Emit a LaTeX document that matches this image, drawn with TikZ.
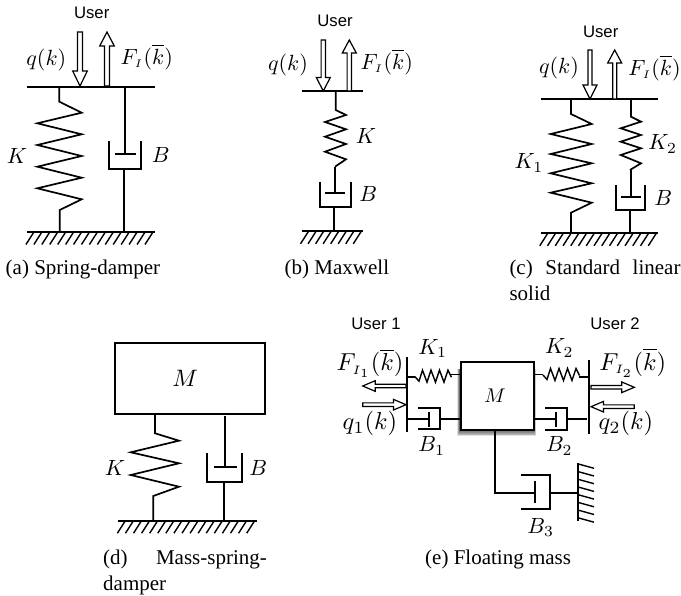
\documentclass[tikz,border=0pt]{standalone}
\usepackage[no-math]{fontspec}
\setmainfont{Liberation Serif}
\setsansfont{Liberation Sans}
\tikzset{
  x=1pt,y=-1pt,
  mech/.style={line width=1.7pt,line join=miter,line cap=butt,draw=black},
  hatch/.style={line width=1.4pt,draw=black},
  mathlabel/.style={inner sep=0pt,scale=2.2,text=black},
  bigmath/.style={inner sep=0pt,scale=2.45,text=black},
  userlabel/.style={inner sep=0pt,font=\fontsize{16.7}{20}\selectfont\sffamily},
  caplabel/.style={inner sep=0pt,font=\fontsize{21}{26.5}\selectfont,anchor=base west,align=left},
  massbox/.style={draw=black,fill=white,inner sep=0pt,anchor=north west},
}
% hollow arrow: tail at (x,y), angle, length, head length, half width of head, half width of shaft
\newcommand{\hollowarrow}[7]{%
  \begin{scope}[shift={(#1,#2)},rotate=#3]
    \draw[line width=1.2pt,fill=white,line join=miter]
      (0,#7) -- (#4-#5,#7) -- (#4-#5,#6) -- (#4,0) -- (#4-#5,-#6) -- (#4-#5,-#7) -- (0,-#7) -- cycle;
  \end{scope}}
% ground: x1 x2 y, hatches below
\newcommand{\groundline}[4]{%
  \draw[mech] (#1,#3) -- (#2,#3);
  \foreach \i in {1,...,#4}{
    \pgfmathsetmacro{\hx}{#1+\i*(#2-#1-1)/#4-1}
    \draw[hatch] (\hx,#3) -- (\hx-8,#3+12.5);
  }}
% vertical damper: rod x, top y, cup left, cup right, cup top, cup bottom, piston y, piston half-width
\newcommand{\vdamper}[9]{%
  \draw[mech] (#1,#2) -- (#1,#7);
  \draw[mech] (#1-#8,#7) -- (#1+#8,#7);
  \draw[mech] (#3,#5) -- (#3,#6) -- (#4,#6) -- (#4,#5);
  \draw[mech] (#1-1,#6) -- (#1-1,#9);
}
% horizontal small spring
\newcommand{\hspring}[2]{%
  \draw[mech,line width=1.4pt] (#1,#2) -- ++(4,4.5) -- ++(3.5,-11) -- ++(4.5,12)-- ++(4,-12) -- ++(4.5,12) -- ++(4,-12) -- ++(4.5,12) -- ++(4,-12) -- ++(3.5,7);
}
\begin{document}
\begin{tikzpicture}
\useasboundingbox (0,0) rectangle (681,596);
%%% (a)
\draw[mech] (27,87) -- (155,87);
\node[userlabel] (ua) at (91.7,13) {User};
\hollowarrow{80}{32}{-90}{54}{15}{7.3}{2.5}
\hollowarrow{107}{86}{90}{54}{14}{7.3}{2.5}
\node[mathlabel] (qa) at (46.3,60) {\(q(k)\)};
\node[mathlabel] (fa) at (146.7,57) {\(F_{\scriptscriptstyle I}(\overline{k})\)};
\draw[mech] (59.3,87) -- (59.3,101.7) -- (81.7,112.7) -- (37.3,123.3) -- (81.7,134.3) -- (37.3,145) -- (81.7,156)
  -- (37.3,166.7) -- (81.7,177.7) -- (37.3,188.3) -- (81.7,199.3) -- (59.7,210) -- (59.7,232);
\vdamper{125.3}{87}{109.3}{141.3}{141}{168.7}{154}{10.5}{232}
\groundline{27}{155}{232}{16}
\node[mathlabel] (ka) at (17,156) {\(K\)};
\node[mathlabel] (ba) at (160.7,155) {\(B\)};
\node[caplabel] (ca) at (5.5,274.5) {(a) Spring-damper};
%%% (b)
\draw[mech] (301.7,91.3) -- (363.3,91.3);
\node[userlabel] (ub) at (335,21) {User};
\hollowarrow{323.3}{40}{-90}{51}{13.5}{7}{2.2}
\hollowarrow{349.3}{91}{90}{51}{13}{7}{2.2}
\node[mathlabel] (qb) at (288,65) {\(q(k)\)};
\node[mathlabel] (fb) at (386.7,62) {\(F_{\scriptscriptstyle I}(\overline{k})\)};
\draw[mech] (335.7,91.3) -- (335.7,110) -- (346,115) -- (325,122) -- (346,129.3) -- (325,136.7) -- (346,144) -- (325,151.7) -- (346,159.3) -- (335,166.7);
\vdamper{335}{166.7}{320}{350.7}{181.7}{207.3}{193.3}{10}{231.3}
\groundline{302}{363.3}{231.3}{8}
\node[mathlabel] (kb) at (366,136) {\(K\)};
\node[mathlabel] (bb) at (368.3,194) {\(B\)};
\node[caplabel] (cb) at (284.5,274.5) {(b) Maxwell};
%%% (c)
\draw[mech] (541,99.3) -- (658.3,99.3);
\node[userlabel] (uc) at (600.7,32) {User};
\hollowarrow{590}{50}{-90}{49}{14}{7}{2}
\hollowarrow{614.7}{99}{90}{49}{13}{7}{2}
\node[mathlabel] (qc) at (559,68) {\(q(k)\)};
\node[mathlabel] (fc) at (654.5,68) {\(F_{\scriptscriptstyle I}(\overline{k})\)};
\draw[mech] (571,99.3) -- (571,114) -- (591.7,124) -- (550.7,134) -- (591.7,144) -- (550.7,154) -- (591.7,163.3) -- (550.7,173.3)
  -- (591.7,183.3) -- (550.7,192.7) -- (591.7,202.7) -- (571,212.7) -- (571,233.3);
\draw[mech] (631,99.3) -- (631,116.7) -- (641,121.7) -- (620.7,128.3) -- (641,135) -- (620.7,141.7) -- (641,148.3) -- (620.7,155) -- (641,163.3) -- (630,170);
\vdamper{631}{170}{616}{645.3}{185}{210}{196.7}{10}{233.3}
\groundline{541}{658.3}{233.3}{15}
\node[mathlabel] (kc1) at (529,163) {\(K_1\)};
\node[mathlabel] (kc2) at (662.7,144) {\(K_2\)};
\node[mathlabel] (bc) at (663.3,198) {\(B\)};
\node[caplabel] (cc) at (509.3,274.5) {\makebox[171pt][s]{(c)\hfill Standard\hfill linear}};
\node[caplabel] (cc2) at (509.3,300.5) {solid};
%%% (d)
\node[massbox,line width=2pt,minimum width=150.6pt,minimum height=71.6pt] (md) at (113.7,341.7) {};
\node[mathlabel,scale=1.08] (mdl) at (185.3,378) {\(M\)};
\draw[mech] (155,413.3) -- (155,433.3) -- (179,440.7) -- (130.7,452.3) -- (179,463.3) -- (130.7,475) -- (179,486.7) -- (153.3,496) -- (153.3,520.7);
\vdamper{225.3}{416}{207.3}{242}{453.3}{482.3}{467.3}{11.3}{520.7}
\groundline{118.3}{256.7}{520.7}{17}
\node[mathlabel] (kd) at (115,468.3) {\(K\)};
\node[mathlabel] (bd) at (258.3,468) {\(B\)};
\node[caplabel] (cd) at (103,564) {\makebox[163.7pt][s]{(d)\hfill Mass-spring-}};
\node[caplabel] (cd2) at (103,590.5) {damper};
%%% (e)
\foreach \g in {9,8,7,6,5,4,3,2,1}{
  \fill[black,opacity=0.11] (460-\g*0.3,369) rectangle (533.3+\g*0.3,429+\g*0.8);
}
\node[massbox,line width=2pt,minimum width=73.3pt,minimum height=68.3pt] (me) at (460,360.7) {};
\node[mathlabel,scale=0.9] (mel) at (495,396) {\(M\)};
\node[userlabel] (ue1) at (376,324) {User 1};
\node[userlabel] (ue2) at (615,324) {User 2};
\node[mathlabel] (ke1) at (432.7,348.3) {\(K_1\)};
\node[mathlabel] (ke2) at (559.3,348) {\(K_2\)};
\node[bigmath] (fe1) at (370,363.3) {\(F_{\scriptscriptstyle I_1}(\overline{k})\)};
\node[bigmath] (fe2) at (632.7,363) {\(F_{\scriptscriptstyle I_2}(\overline{k})\)};
\node[bigmath] (qe1) at (370,423.3) {\(q_1(k)\)};
\node[bigmath] (qe2) at (626,423.3) {\(q_2(k)\)};
\node[mathlabel] (be1) at (431.7,446) {\(B_1\)};
\node[mathlabel] (be2) at (559.3,446) {\(B_2\)};
% walls
\draw[mech] (406.7,357.3) -- (406.7,432.3);
\draw[mech] (589.3,360) -- (589.3,434.3);
% springs
\draw[mech] (406.7,376.7) -- (415,376.7);
\hspring{415}{376.7}
\draw[mech] (451,374.5) -- (460,374.5);
\draw[mech] (533.3,374.5) -- (543,374.5);
\hspring{543}{375}
\draw[mech] (579,377) -- (589.3,377);
% side dampers
\draw[mech] (406.7,419.3) -- (429.3,419.3);
\draw[mech] (429.3,411.7) -- (429.3,426.7);
\draw[mech] (418.3,408.3) -- (440,408.3) -- (440,429.3) -- (418.3,429.3);
\draw[mech] (440,419.3) -- (460,419.3);
\draw[mech] (533.3,419.3) -- (556,419.3);
\draw[mech] (556,411.7) -- (556,426.7);
\draw[mech] (545,408.3) -- (566.7,408.3) -- (566.7,430) -- (545,430);
\draw[mech] (566.7,419.3) -- (586.7,419.3);
% arrows
\hollowarrow{406}{386}{180}{43.3}{12.5}{5.3}{1.8}
\hollowarrow{362.7}{404.7}{0}{43.3}{12.5}{5.3}{1.8}
\hollowarrow{591}{387.3}{0}{43.3}{12.5}{5.3}{1.8}
\hollowarrow{634.3}{406.7}{180}{43.3}{12.5}{5.3}{1.8}
% bottom damper
\draw[mech] (495.3,429) -- (495.3,492.7) -- (535,492.7);
\draw[mech] (535,481) -- (535,503.3);
\draw[mech] (520.7,475) -- (550,475) -- (550,509) -- (520.7,509);
\draw[mech] (550,492.7) -- (577.7,492.7);
\draw[mech] (577.7,463.3) -- (577.7,521);
\foreach \i in {0,...,7}{
  \draw[hatch] (577.7,463.8+\i*7.7) -- (594,468.3+\i*7.7);
}
\node[mathlabel] (be3) at (540.7,527.7) {\(B_3\)};
\node[caplabel] (ce) at (425,564) {(e) Floating mass};
\end{tikzpicture}
\end{document}
